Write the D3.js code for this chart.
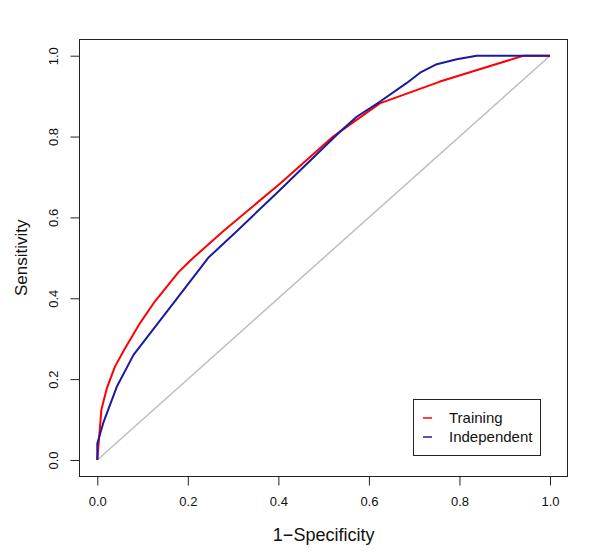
<!DOCTYPE html>
<html><head><meta charset="utf-8">
<script src="https://cdn.jsdelivr.net/npm/d3@7"></script>
<style>body{margin:0;background:#fff}svg{display:block}text{font-family:"Liberation Sans",Arial,sans-serif}</style>
</head><body>
<script>
const trainingFPR = [0, 0.009, 0.021, 0.039, 0.061, 0.094, 0.127, 0.179, 0.205, 0.278, 0.404, 0.521, 0.551, 0.624, 0.757, 0.941, 1];
const trainingTPR = [0, 0.124, 0.177, 0.231, 0.276, 0.338, 0.392, 0.464, 0.493, 0.566, 0.684, 0.8, 0.824, 0.882, 0.936, 1.0, 1];
const indepFPR = [0, 0, 0.013, 0.043, 0.080, 0.175, 0.245, 0.308, 0.396, 0.536, 0.573, 0.624, 0.683, 0.713, 0.750, 0.794, 0.838, 1];
const indepTPR = [0, 0.041, 0.091, 0.181, 0.26, 0.398, 0.500, 0.566, 0.660, 0.812, 0.849, 0.886, 0.932, 0.958, 0.979, 0.991, 1.0, 1];
const tickValues = [0, 0.2, 0.4, 0.6, 0.8, 1.0];
const seriesNames = ["Training", "Independent"];
const seriesColors = ["#ff0000", "#1a1aa0"];

const W = 600, H = 560;
const svg = d3.select("body").append("svg").attr("width", W).attr("height", H);
const x = d3.scaleLinear().domain([0, 1]).range([97.3, 550]);
const y = d3.scaleLinear().domain([0, 1]).range([460, 55.7]);
const box = {l: 79.5, r: 567.5, t: 39.5, b: 476.5};

// diagonal
svg.append("line").attr("x1", x(0)).attr("y1", y(0)).attr("x2", x(1)).attr("y2", y(1))
  .attr("stroke", "#bebebe").attr("stroke-width", 1.5);

const line = d3.line().x(d => x(d[0])).y(d => y(d[1]));
const series = [
  d3.zip(trainingFPR, trainingTPR),
  d3.zip(indepFPR, indepTPR)
];
series.forEach((s, i) => {
  svg.append("path").datum(s).attr("d", line).attr("fill", "none")
    .attr("stroke", seriesColors[i]).attr("stroke-width", 2).attr("stroke-linejoin", "round");
});

// box
svg.append("rect").attr("x", box.l).attr("y", box.t).attr("width", box.r - box.l).attr("height", box.b - box.t)
  .attr("fill", "none").attr("stroke", "#222").attr("stroke-width", 1);

// x axis
const xa = svg.append("g").attr("transform", `translate(0,${box.b})`)
  .call(d3.axisBottom(x).tickValues(tickValues).tickFormat(d3.format(".1f")).tickSize(9).tickPadding(11));
xa.select(".domain").remove();
xa.selectAll("line").attr("stroke", "#222");
xa.selectAll("text").attr("font-size", 13).attr("fill", "#111").attr("font-family", '"Liberation Sans",Arial,sans-serif');

// y axis
const ya = svg.append("g").attr("transform", `translate(${box.l},0)`)
  .call(d3.axisLeft(y).tickValues(tickValues).tickFormat(d3.format(".1f")).tickSize(9).tickPadding(0));
ya.select(".domain").remove();
ya.selectAll("line").attr("stroke", "#222");
ya.selectAll("text").attr("font-size", 13).attr("fill", "#111").attr("font-family", '"Liberation Sans",Arial,sans-serif')
  .attr("text-anchor", "middle").attr("x", null)
  .attr("transform", `translate(-26,0) rotate(-90)`).attr("y", 0).attr("dy", "0.35em");

// axis titles
svg.append("text").attr("x", (x(0) + x(1)) / 2).attr("y", 541).attr("text-anchor", "middle")
  .attr("font-size", 18).attr("fill", "#111").text("1\u2212Specificity");
svg.append("text").attr("transform", `translate(27,${(y(0) + y(1)) / 2}) rotate(-90)`).attr("text-anchor", "middle")
  .attr("font-size", 17).attr("fill", "#111").text("Sensitivity");

// legend
const lg = svg.append("g");
lg.append("rect").attr("x", 413.5).attr("y", 399.5).attr("width", 127).attr("height", 56)
  .attr("fill", "#fff").attr("stroke", "#222").attr("stroke-width", 1);
seriesNames.forEach((n, i) => {
  const cy = 418 + i * 19;
  lg.append("line").attr("x1", 423).attr("x2", 432).attr("y1", cy).attr("y2", cy)
    .attr("stroke", seriesColors[i]).attr("stroke-width", 1.5);
  lg.append("text").attr("x", 449).attr("y", cy).attr("dy", "0.35em").attr("font-size", 15).attr("fill", "#111").text(n);
});
</script>
</body></html>
